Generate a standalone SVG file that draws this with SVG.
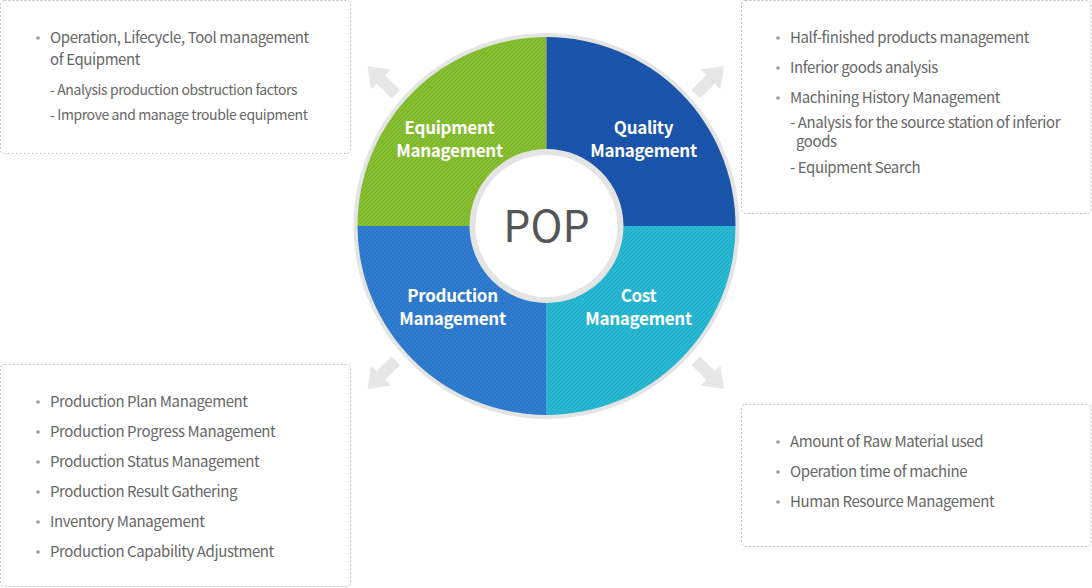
<svg xmlns="http://www.w3.org/2000/svg" width="1092" height="588" viewBox="0 0 1092 588">
<style>
.box{fill:#fff;stroke:#bcbcbc;stroke-width:1;stroke-dasharray:2 2}
.t{font-family:"Noto Sans CJK KR","Noto Sans",sans-serif;font-size:15px;fill:#666;letter-spacing:-0.4px}
.s{font-family:"Noto Sans CJK KR","Noto Sans",sans-serif;font-size:14px;fill:#666;letter-spacing:-0.4px}
.b{fill:#9a9a9a}
.lab{font-family:"Noto Sans CJK KR","Noto Sans",sans-serif;font-size:17px;font-weight:bold;fill:#fff;text-anchor:middle;letter-spacing:-0.3px}
.arr{fill:#e6e6e6}
</style>
<defs>
<pattern id="hatch" width="4" height="4" patternUnits="userSpaceOnUse">
<path d="M-1,1 l2,-2 M0,4 l4,-4 M3,5 l2,-2" stroke="#000" stroke-opacity="0.09" stroke-width="1"/>
</pattern>
<path id="arrow" d="M-40,-6 L-19,-6 L-19,-14 L0,0 L-19,14 L-19,6 L-40,6 Z"/>
</defs>
<rect width="1092" height="588" fill="#fff"/>

<g id="connectors">
<use href="#arrow" class="arr" transform="translate(367.5,66) rotate(-135)"/>
<use href="#arrow" class="arr" transform="translate(724,66) rotate(-45)"/>
<use href="#arrow" class="arr" transform="translate(367.5,389) rotate(135)"/>
<use href="#arrow" class="arr" transform="translate(724,389) rotate(45)"/>
</g>

<g id="pop-wheel">
<circle cx="546.5" cy="226" r="193" fill="#e4e4e4"/>
<g id="equipment">
<path d="M546.5,226 L357.5,226 A189,189 0 0 1 546.5,37 Z" fill="#86bf2f"/>
<path d="M546.5,226 L357.5,226 A189,189 0 0 1 546.5,37 Z" fill="url(#hatch)"/>
<text class="lab" x="449.5" y="134">Equipment</text>
<text class="lab" x="449.5" y="157">Management</text>
</g>
<g id="quality">
<path d="M546.5,226 L546.5,37 A189,189 0 0 1 735.5,226 Z" fill="#1a56ad"/>
<path d="M546.5,226 L546.5,37 A189,189 0 0 1 735.5,226 Z" fill="url(#hatch)"/>
<text class="lab" x="643.5" y="134">Quality</text>
<text class="lab" x="643.5" y="157">Management</text>
</g>
<g id="cost">
<path d="M546.5,226 L735.5,226 A189,189 0 0 1 546.5,415 Z" fill="#27b8d4"/>
<path d="M546.5,226 L735.5,226 A189,189 0 0 1 546.5,415 Z" fill="url(#hatch)"/>
<text class="lab" x="638.5" y="302">Cost</text>
<text class="lab" x="638.5" y="325">Management</text>
</g>
<g id="production">
<path d="M546.5,226 L546.5,415 A189,189 0 0 1 357.5,226 Z" fill="#2e7dd0"/>
<path d="M546.5,226 L546.5,415 A189,189 0 0 1 357.5,226 Z" fill="url(#hatch)"/>
<text class="lab" x="452.5" y="302">Production</text>
<text class="lab" x="452.5" y="325">Management</text>
</g>
<g id="pop">
<circle cx="546.5" cy="226" r="77" fill="#e4e4e4"/>
<circle cx="546.5" cy="226" r="71" fill="#fff"/>
<text x="546.5" y="242" text-anchor="middle" font-family="'Noto Sans CJK KR','Noto Sans',sans-serif" font-size="43" fill="#555">POP</text>
</g>
</g>

<g id="box-equipment">
<rect class="box" x="0.5" y="0.5" width="350" height="153" rx="4"/>
<circle class="b" cx="38" cy="38" r="1.8"/>
<text class="t" x="50" y="43">Operation, Lifecycle, Tool management</text>
<text class="t" x="50" y="65">of Equipment</text>
<text class="s" x="50" y="95">- Analysis production obstruction factors</text>
<text class="s" x="50" y="120">- Improve and manage trouble equipment</text>
</g>

<g id="box-quality">
<rect class="box" x="741.5" y="0.5" width="349.5" height="213" rx="4"/>
<circle class="b" cx="778" cy="38" r="1.8"/>
<text class="t" x="790" y="43">Half-finished products management</text>
<circle class="b" cx="778" cy="68" r="1.8"/>
<text class="t" x="790" y="73">Inferior goods analysis</text>
<circle class="b" cx="778" cy="98" r="1.8"/>
<text class="t" x="790" y="103">Machining History Management</text>
<text class="t" x="790" y="128">- Analysis for the source station of inferior</text>
<text class="t" x="796" y="147">goods</text>
<text class="t" x="790" y="173">- Equipment Search</text>
</g>

<g id="box-production">
<rect class="box" x="0.5" y="364.5" width="350" height="222" rx="4"/>
<circle class="b" cx="38" cy="402" r="1.8"/>
<text class="t" x="50" y="407">Production Plan Management</text>
<circle class="b" cx="38" cy="432" r="1.8"/>
<text class="t" x="50" y="437">Production Progress Management</text>
<circle class="b" cx="38" cy="462" r="1.8"/>
<text class="t" x="50" y="467">Production Status Management</text>
<circle class="b" cx="38" cy="492" r="1.8"/>
<text class="t" x="50" y="497">Production Result Gathering</text>
<circle class="b" cx="38" cy="522" r="1.8"/>
<text class="t" x="50" y="527">Inventory Management</text>
<circle class="b" cx="38" cy="552" r="1.8"/>
<text class="t" x="50" y="557">Production Capability Adjustment</text>
</g>

<g id="box-cost">
<rect class="box" x="741.5" y="404.5" width="349.5" height="142" rx="4"/>
<circle class="b" cx="778" cy="442" r="1.8"/>
<text class="t" x="790" y="447">Amount of Raw Material used</text>
<circle class="b" cx="778" cy="472" r="1.8"/>
<text class="t" x="790" y="477">Operation time of machine</text>
<circle class="b" cx="778" cy="502" r="1.8"/>
<text class="t" x="790" y="507">Human Resource Management</text>
</g>
</svg>
